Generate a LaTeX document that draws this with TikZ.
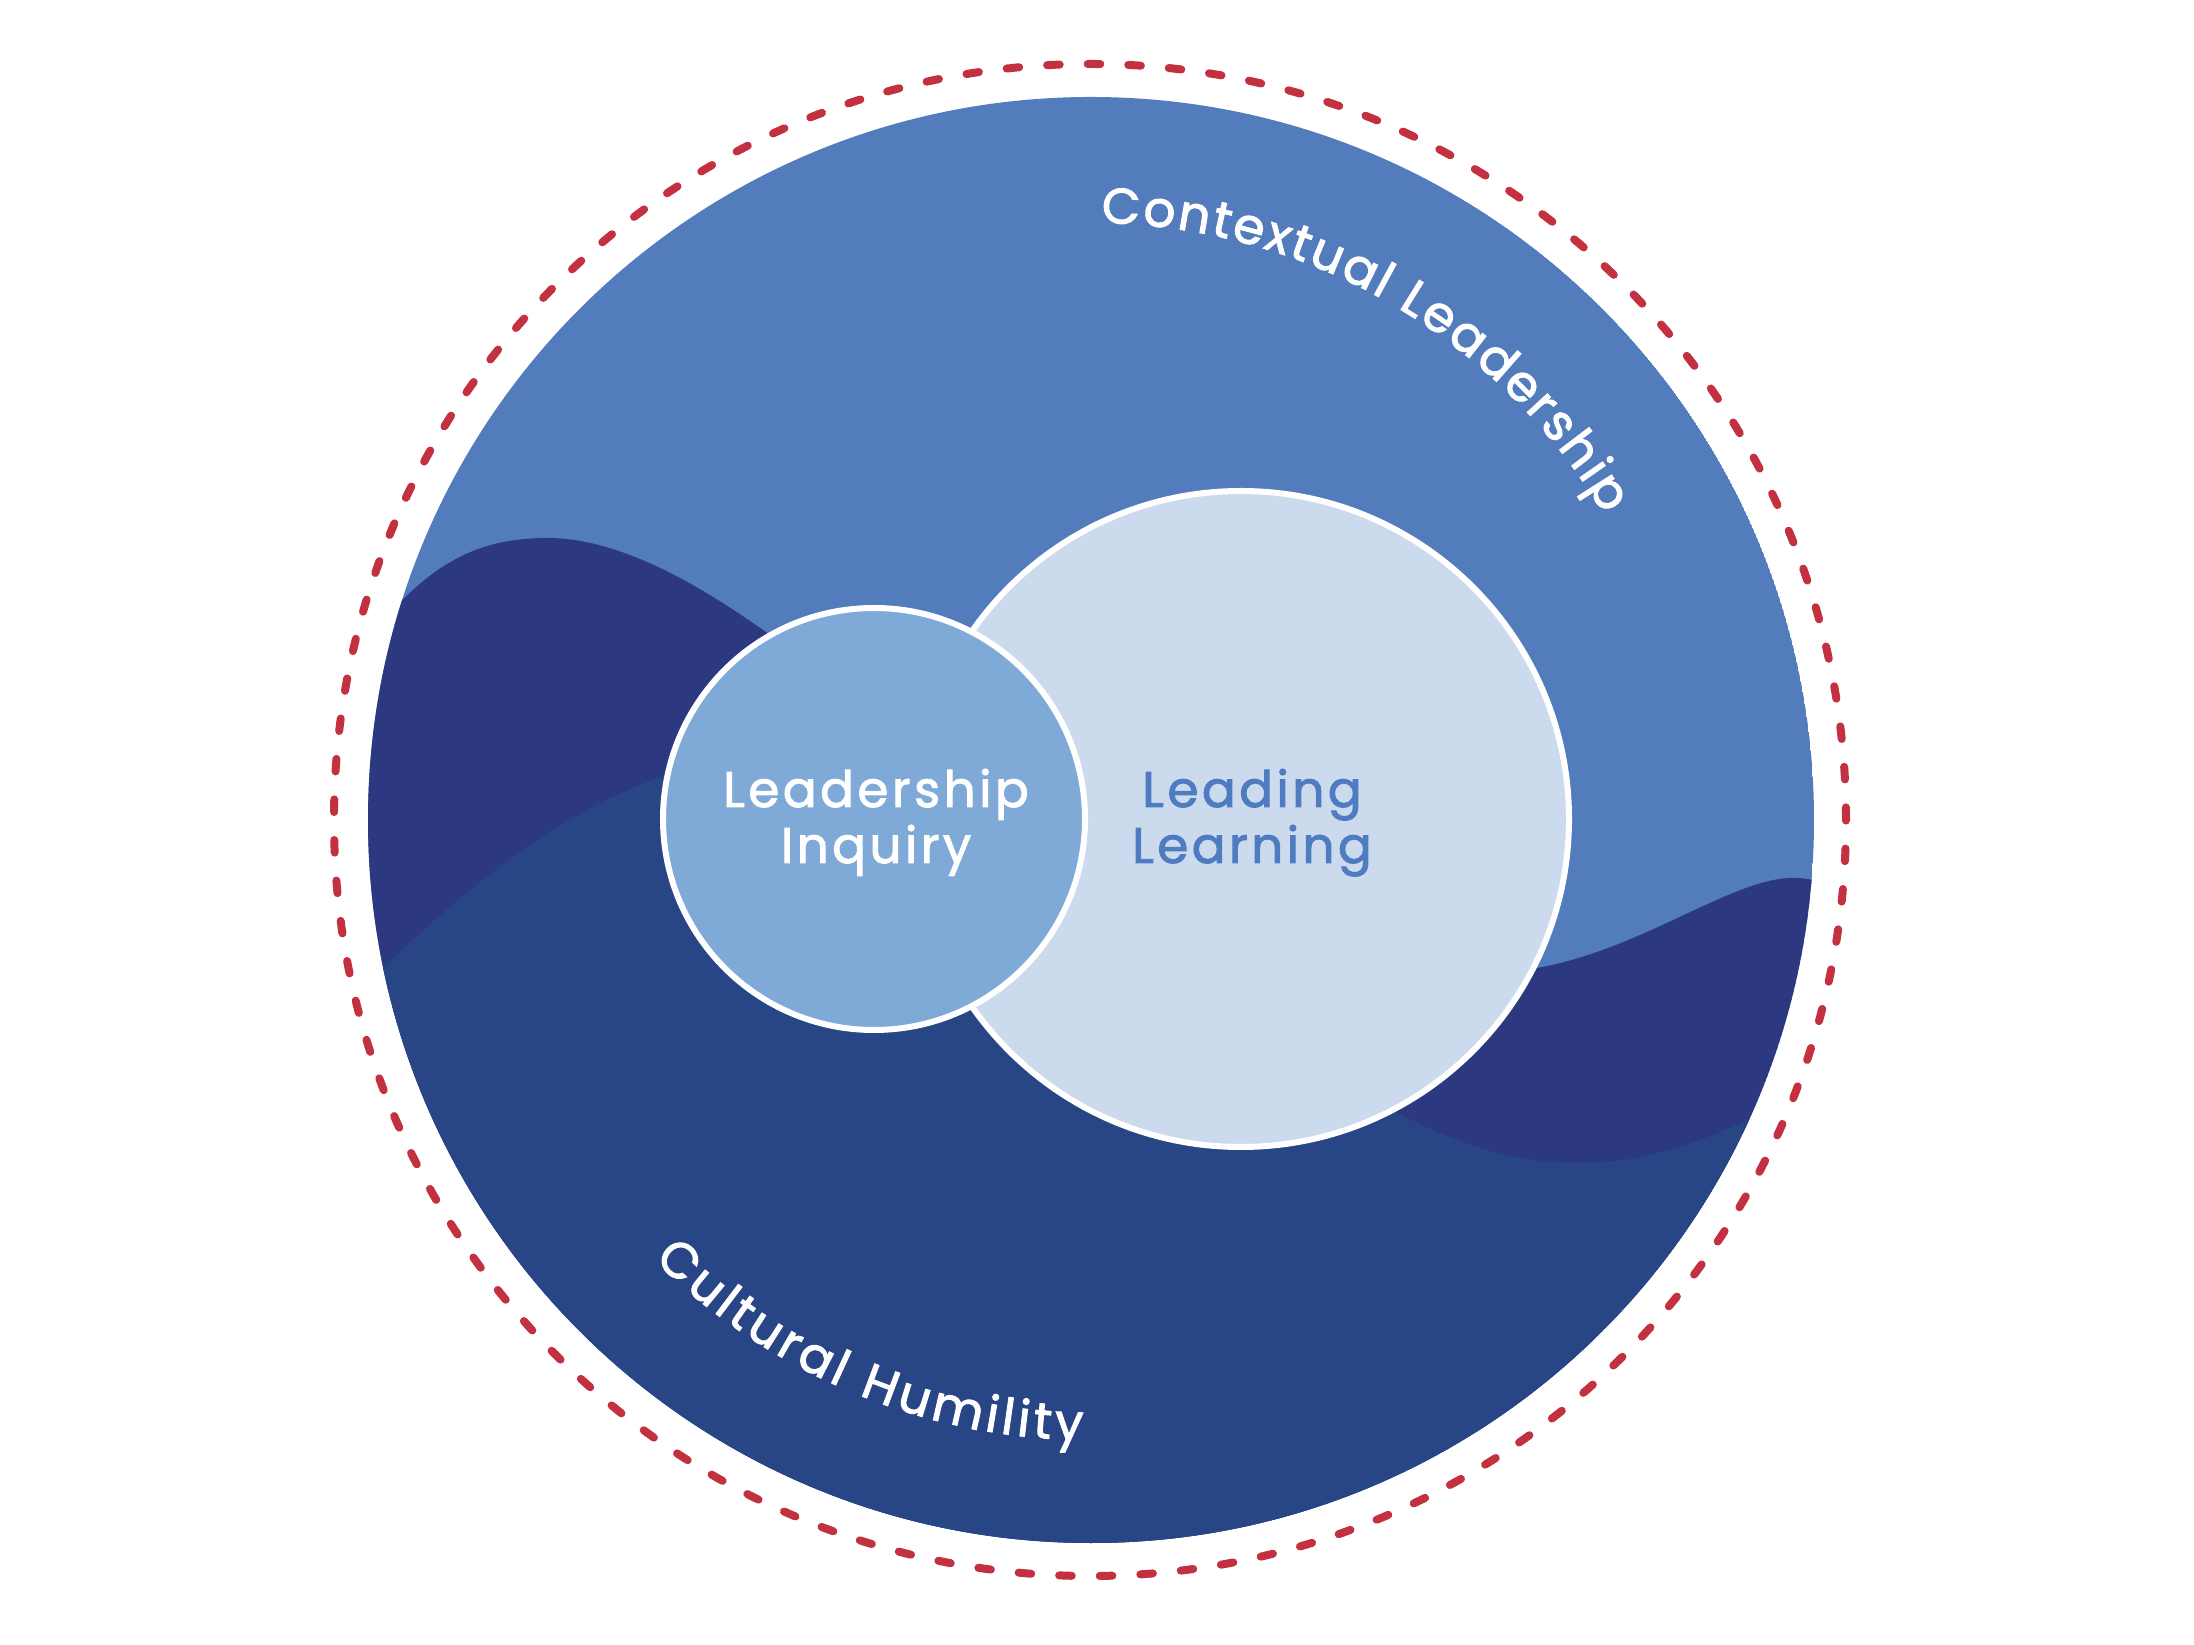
\documentclass[tikz,border=0pt]{standalone}
\usepackage{fontspec}
\newfontfamily\pop[FakeBold=2,LetterSpace=7]{Poppins}
\newfontfamily\arcpop[FakeBold=2]{Poppins}
\usetikzlibrary{decorations.text}
\definecolor{topblue}{HTML}{527CBB}
\definecolor{darknavy}{HTML}{2C3980}
\definecolor{midnavy}{HTML}{284585}
\definecolor{smallfill}{HTML}{7FAAD8}
\definecolor{bigfill}{HTML}{CBDBED}
\definecolor{lltext}{HTML}{4F7CC0}
\definecolor{reddash}{HTML}{C3303F}
\tikzset{
  ringcircle/.style={circle, draw=white, line width=6pt, inner sep=0pt, outer sep=0pt},
  centertext/.style={font=\pop\fontsize{50pt}{56pt}\selectfont, inner sep=0pt, anchor=base},
}
\begin{document}
\begin{tikzpicture}[x=1pt,y=1pt]
\useasboundingbox (0,0) rectangle (2194,1644);
\fill[white] (0,0) rectangle (2194,1644);
\coordinate (C) at (1091,824);
\begin{scope}
  \clip (C) circle[radius=723];
  \fill[topblue] (C) circle[radius=723];
  % dark navy wave
  \fill[darknavy] (250,1000) -- (360,994)
    .. controls (420,1074) and (470,1106) .. (547,1106)
    .. controls (620,1106) and (700,1059) .. (770,1009)
    .. controls (900,916) and (1434,658) .. (1537,676)
    .. controls (1640,694) and (1730,764) .. (1790,766)
    .. controls (1810,767) and (1830,760) .. (1860,749)
    -- (1900,740) -- (1900,-100) -- (250,-100) -- cycle;
  % mid navy wave
  \fill[midnavy] (250,600) -- (340,634)
    .. controls (440,734) and (560,844) .. (700,879)
    .. controls (840,914) and (1320,570) .. (1395,532)
    .. controls (1470,494) and (1520,481) .. (1580,481)
    .. controls (1650,481) and (1710,504) .. (1800,549)
    -- (1900,490) -- (1900,-100) -- (250,-100) -- cycle;
\end{scope}
% dashed outer ring
\draw[reddash, line width=8pt, line cap=round, dash pattern=on 12.6pt off 28pt] (1090,824) circle[radius=756];
% inner circles
\node[ringcircle, fill=bigfill, minimum size=656pt] (LL) at (1241,825) {};
\node[ringcircle, fill=smallfill, minimum size=422pt] (LI) at (874,825) {};
% center texts
\node[centertext, text=white] (li1) at (876,837) {Leadership};
\node[centertext, text=white] (li2) at (876,781) {Inquiry};
\node[centertext, text=lltext] (ll1) at (1252,837) {Leading};
\node[centertext, text=lltext] (ll2) at (1252,781) {Learning};
% arc texts
\path[decorate, decoration={text along path,
   text={|\arcpop\fontsize{50pt}{56pt}\selectfont\color{white}\kern2.4pt|Contextual Leadership},
   text align=center}]
   (C) ++(100:597) arc[start angle=100, end angle=20, radius=597];
\path[decorate, decoration={text along path,
   text={|\arcpop\fontsize{50pt}{56pt}\selectfont\color{white}\kern4pt|Cultural Humility},
   text align=center}]
   (C) ++(207:620) arc[start angle=207, end angle=287, radius=620];
\end{tikzpicture}
\end{document}
